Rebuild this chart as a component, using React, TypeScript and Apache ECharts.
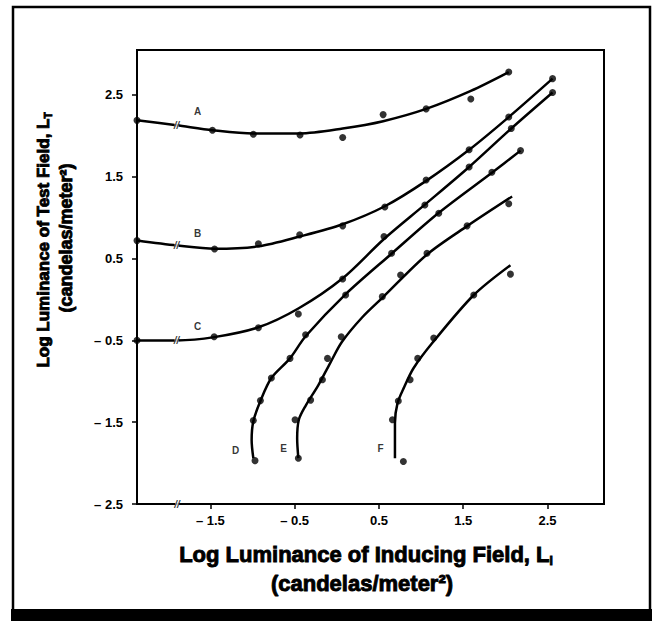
import React, { useEffect, useRef } from "react";
import * as echarts from "echarts";

const X_MIN = -2.37;
const X_MAX = 3.17;
const Y_MIN = -2.5;
const Y_MAX = 3.05;
const xTicks = [-1.5, -0.5, 0.5, 1.5, 2.5];
const yTicks = [-2.5, -1.5, -0.5, 0.5, 1.5, 2.5];

// fitted curves
const curveA = [[-2.37, 2.19], [-1.9, 2.13], [-1.47, 2.07], [-0.99, 2.03], [-0.44, 2.03], [0.07, 2.09], [0.55, 2.18], [1.06, 2.33], [1.59, 2.55], [2.04, 2.78]];
const curveB = [[-2.37, 0.72], [-1.9, 0.66], [-1.45, 0.62], [-0.93, 0.65], [-0.44, 0.77], [0.07, 0.92], [0.57, 1.14], [1.06, 1.45], [1.57, 1.83], [2.04, 2.23], [2.56, 2.7]];
const curveC = [[-2.37, -0.5], [-1.9, -0.5], [-1.455, -0.46], [-0.93, -0.34], [-0.456, -0.11], [0.07, 0.26], [0.56, 0.74], [1.045, 1.16], [1.57, 1.62], [2.07, 2.09], [2.56, 2.53]];
const curveD = [[-0.99, -1.94], [-1.01, -1.72], [-0.99, -1.49], [-0.906, -1.24], [-0.776, -0.96], [-0.555, -0.72], [-0.37, -0.45], [0.1, 0.06], [0.65, 0.56], [1.21, 1.06], [1.84, 1.55], [2.18, 1.82]];
const curveE = [[-0.456, -1.94], [-0.47, -1.7], [-0.45, -1.47], [-0.37, -1.3], [-0.22, -1.05], [-0.08, -0.78], [0.06, -0.52], [0.3, -0.22], [0.55, 0.03], [1.07, 0.55], [1.55, 0.9], [2.08, 1.26]];
const curveF = [[0.69, -1.94], [0.69, -1.7], [0.69, -1.51], [0.72, -1.27], [0.8, -1.07], [0.91, -0.84], [1.13, -0.535], [1.625, 0.055], [2.06, 0.42]];

// measured points
const pointsA = [[-2.37, 2.19], [-1.475, 2.07], [-0.99, 2.02], [-0.436, 2.01], [0.07, 1.98], [0.55, 2.26], [1.06, 2.33], [1.59, 2.45], [2.04, 2.78]];
const pointsB = [[-2.37, 0.72], [-1.45, 0.617], [-0.93, 0.68], [-0.44, 0.79], [0.07, 0.9], [0.57, 1.13], [1.06, 1.46], [1.57, 1.83], [2.04, 2.23], [2.56, 2.7]];
const pointsC = [[-2.37, -0.5], [-1.455, -0.455], [-0.93, -0.345], [-0.456, -0.177], [0.07, 0.25], [0.56, 0.77], [1.045, 1.155], [1.57, 1.62], [2.07, 2.09], [2.56, 2.53]];
const pointsD = [[-0.97, -1.97], [-0.99, -1.48], [-0.906, -1.236], [-0.776, -0.96], [-0.555, -0.72], [-0.37, -0.43], [0.105, 0.055], [0.65, 0.565], [1.21, 1.054], [1.84, 1.555], [2.18, 1.82]];
const pointsE = [[-0.456, -1.94], [-0.495, -1.47], [-0.31, -1.23], [-0.17, -0.98], [-0.11, -0.72], [0.053, -0.455], [0.54, 0.035], [0.757, 0.3], [1.07, 0.565], [1.546, 0.9], [2.04, 1.17]];
const pointsF = [[0.79, -1.98], [0.66, -1.47], [0.73, -1.24], [0.87, -0.98], [0.96, -0.72], [1.15, -0.47], [1.625, 0.055], [2.06, 0.31]];

const curveNames = ["A", "B", "C", "D", "E", "F"];
const curveLabelPos = [[-1.65, 2.3], [-1.65, 0.81], [-1.65, -0.33], [-1.2, -1.84], [-0.63, -1.82], [0.52, -1.82]];
const breakMarks = [[-1.9, 2.13], [-1.9, 0.66], [-1.9, -0.5], [-1.894, -2.5]];

const FONT = "'Liberation Sans', Arial, Helvetica, sans-serif";

function fmt(v: number) {
  return v < 0 ? "– " + Math.abs(v).toFixed(1) : v.toFixed(1);
}

export default function App() {
  const ref = useRef<HTMLDivElement>(null);
  useEffect(() => {
    document.body.style.margin = "0";
    const chart = echarts.init(ref.current!, null, { renderer: "svg" });
    const curves = [curveA, curveB, curveC, curveD, curveE, curveF];
    const points = [pointsA, pointsB, pointsC, pointsD, pointsE, pointsF];
    const series: any[] = [];
    curves.forEach((c, i) => {
      series.push({
        type: "line",
        name: "curve" + curveNames[i],
        data: c,
        smooth: 0.3,
        showSymbol: false,
        lineStyle: { color: "#000", width: 2.5 },
        z: 2,
      });
    });
    points.forEach((p, i) => {
      series.push({
        type: "scatter",
        name: "points" + curveNames[i],
        data: p,
        symbolSize: 7,
        itemStyle: { color: "#000" },
        z: 3,
      });
    });
    series.push({
      type: "scatter",
      name: "labels",
      data: curveLabelPos.map((p, i) => ({ value: p, name: curveNames[i] })),
      symbolSize: 0,
      label: {
        show: true,
        position: "inside",
        formatter: (d: any) => d.name,
        fontFamily: FONT,
        fontWeight: "bold",
        fontSize: 10,
        color: "#000",
      },
      z: 4,
    });
    series.push({
      type: "scatter",
      name: "breaks",
      data: breakMarks,
      symbol: "rect",
      symbolSize: [4, 9],
      itemStyle: { color: "#fff" },
      label: {
        show: true,
        position: "inside",
        formatter: "//",
        fontFamily: FONT,
        fontWeight: "bold",
        fontStyle: "italic",
        fontSize: 10,
        color: "#000",
      },
      z: 5,
    });

    const titleStyle = (size: number) => ({
      fontFamily: FONT,
      fontWeight: "bold",
      fontSize: size,
      fill: "#000",
      stroke: "#000",
      lineWidth: 0.9,
    });

    chart.setOption({
      animation: false,
      backgroundColor: "#fff",
      grid: {
        left: 137,
        right: 49,
        top: 50,
        bottom: 117,
        show: true,
        borderColor: "#000",
        borderWidth: 2,
      },
      xAxis: {
        type: "value",
        min: X_MIN,
        max: X_MAX,
        axisLine: { show: true, onZero: false, lineStyle: { color: "#000", width: 2 } },
        axisTick: { show: true, customValues: xTicks, length: 5, lineStyle: { color: "#000", width: 1.5 } },
        axisLabel: {
          customValues: xTicks,
          formatter: (v: number) => fmt(v),
          margin: 10,
          fontFamily: FONT,
          fontWeight: "bold",
          fontSize: 13,
          color: "#000",
        },
        splitLine: { show: false },
      },
      yAxis: {
        type: "value",
        min: Y_MIN,
        max: Y_MAX,
        axisLine: { show: true, onZero: false, lineStyle: { color: "#000", width: 2 } },
        axisTick: { show: true, customValues: yTicks, length: 5, lineStyle: { color: "#000", width: 1.5 } },
        axisLabel: {
          customValues: yTicks,
          formatter: (v: number) => fmt(v),
          margin: 14,
          fontFamily: FONT,
          fontWeight: "bold",
          fontSize: 13,
          color: "#000",
        },
        splitLine: { show: false },
      },
      graphic: [
        {
          type: "rect",
          shape: { x: 13, y: 7, width: 637, height: 606 },
          style: { fill: "none", stroke: "#000", lineWidth: 2.5 },
          silent: true,
        },
        {
          type: "rect",
          shape: { x: 11, y: 609, width: 641, height: 12 },
          style: { fill: "#000" },
          silent: true,
        },
        {
          type: "text",
          x: 366,
          y: 554,
          style: {
            text: "{m|Log Luminance of Inducing Field, L}{s|I}",
            align: "center",
            verticalAlign: "middle",
            rich: {
              m: { ...titleStyle(22), lineHeight: 25 },
              s: { ...titleStyle(12), lineHeight: 25, verticalAlign: "bottom" },
            },
          },
        },
        {
          type: "text",
          x: 362,
          y: 583,
          style: {
            text: "(candelas/meter²)",
            align: "center",
            verticalAlign: "middle",
            ...titleStyle(22),
          },
        },
        {
          type: "text",
          x: 43,
          y: 240,
          rotation: Math.PI / 2,
          style: {
            text: "{m|Log Luminance of Test Field, L}{s|T}",
            align: "center",
            verticalAlign: "middle",
            rich: {
              m: { ...titleStyle(17), lineHeight: 20 },
              s: { ...titleStyle(10), lineHeight: 20, verticalAlign: "bottom" },
            },
          },
        },
        {
          type: "text",
          x: 66,
          y: 238,
          rotation: Math.PI / 2,
          style: {
            text: "(candelas/meter²)",
            align: "center",
            verticalAlign: "middle",
            ...titleStyle(18),
          },
        },
      ],
      series,
    });
    return () => chart.dispose();
  }, []);
  return <div ref={ref} style={{ width: 653, height: 621 }} />;
}
